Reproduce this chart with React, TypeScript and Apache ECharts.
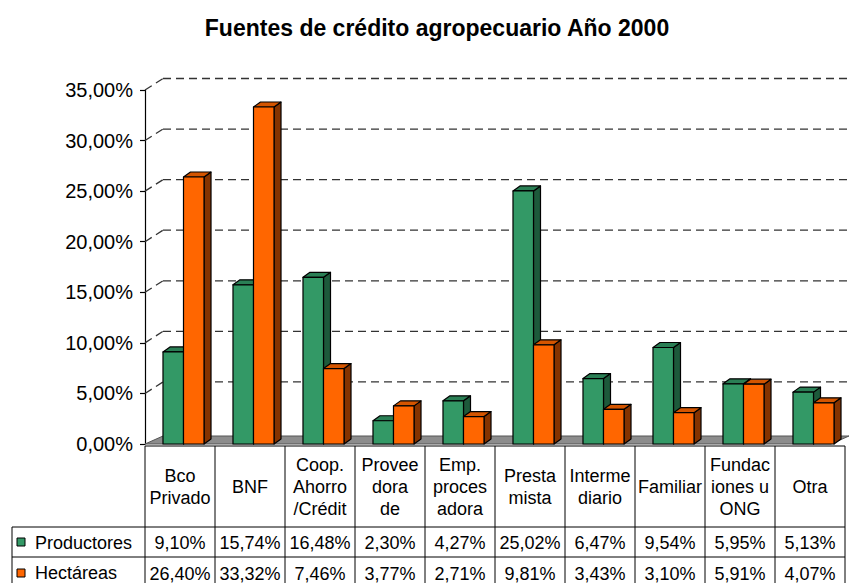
import React, { useEffect, useRef } from "react";
import * as echarts from "echarts";

const title = "Fuentes de crédito agropecuario Año 2000";
const categories = [
  "Bco\nPrivado",
  "BNF",
  "Coop.\nAhorro\n/Crédit",
  "Provee\ndora\nde",
  "Emp.\nproces\nadora",
  "Presta\nmista",
  "Interme\ndiario",
  "Familiar",
  "Fundac\niones u\nONG",
  "Otra",
];
const seriesNames = ["Productores", "Hectáreas"];
const productores = [9.1, 15.74, 16.48, 2.3, 4.27, 25.02, 6.47, 9.54, 5.95, 5.13];
const hectareas = [26.4, 33.32, 7.46, 3.77, 2.71, 9.81, 3.43, 3.1, 5.91, 4.07];
const yTicks = [0, 5, 10, 15, 20, 25, 30, 35];

const FONT = "Liberation Sans";
const fmt = (v: number) => v.toFixed(2).replace(".", ",") + "%";

const GREEN = { front: "#339966", side: "#1d5a3b", top: "#2a7f55" };
const ORANGE = { front: "#ff6600", side: "#853300", top: "#d45500" };

const WALL_DX = 18;
const WALL_DY = -11.5;
const FLOOR_DY = -8;

function barRenderer(offsetFrac: number, widthFrac: number, colors: any) {
  return (params: any, api: any) => {
    const idx = api.value(0);
    const v = api.value(1);
    const base = api.coord([idx, 0]);
    const top = api.coord([idx, v]);
    const bw = api.size([1, 0])[0];
    const x0 = base[0] - bw / 2 + bw * offsetFrac;
    const x1 = x0 + bw * widthFrac;
    const dx = bw * 0.1;
    const dy = -5;
    const y0 = base[1];
    const y1 = top[1];
    const st = { stroke: "#000", lineWidth: 1.2, lineJoin: "round" };
    return {
      type: "group",
      children: [
        {
          type: "polygon",
          shape: { points: [[x1, y0], [x1 + dx, y0 + dy], [x1 + dx, y1 + dy], [x1, y1]] },
          style: { fill: colors.side, ...st },
        },
        {
          type: "polygon",
          shape: { points: [[x0, y1], [x1, y1], [x1 + dx, y1 + dy], [x0 + dx, y1 + dy]] },
          style: { fill: colors.top, ...st },
        },
        {
          type: "rect",
          shape: { x: x0, y: y1, width: x1 - x0, height: y0 - y1 },
          style: { fill: colors.front, ...st },
        },
      ],
    };
  };
}

export default function App() {
  const ref = useRef<HTMLDivElement>(null);
  useEffect(() => {
    if (!ref.current) return;
    const chart = echarts.init(ref.current, undefined, { renderer: "svg" });

    const gridRender = (params: any, api: any) => {
      const v = api.value(1);
      const cs = params.coordSys;
      const y = api.coord([0, v])[1];
      const xL = cs.x;
      const xBackR = cs.x + cs.width + 4;
      if (v === 0) {
        return {
          type: "polygon",
          shape: {
            points: [
              [xL, y],
              [xL + WALL_DX, y + FLOOR_DY],
              [xBackR, y + FLOOR_DY],
              [xBackR - WALL_DX, y],
            ],
          },
          style: { fill: "#8c8c8c", stroke: "#555", lineWidth: 1 },
        };
      }
      const dash = { stroke: "#333", lineWidth: 1.3, lineDash: [8, 5] };
      return {
        type: "group",
        children: [
          {
            type: "line",
            shape: { x1: xL, y1: y, x2: xL + WALL_DX, y2: y + WALL_DY },
            style: dash,
          },
          {
            type: "line",
            shape: { x1: xL + WALL_DX, y1: y + WALL_DY, x2: xBackR + 10, y2: y + WALL_DY },
            style: dash,
          },
        ],
      };
    };

    const tableRender = (params: any, api: any) => {
      const i = params.dataIndex;
      const base = api.coord([i, 0]);
      const bw = api.size([1, 0])[0];
      const xl = base[0] - bw / 2;
      const xr = base[0] + bw / 2;
      const y0 = base[1] + 2;
      const r1 = base[1] + 83;
      const r2 = base[1] + 113;
      const r3 = base[1] + 146;
      const ln = { stroke: "#000", lineWidth: 1 };
      const children: any[] = [
        { type: "line", shape: { x1: xl, y1: y0, x2: xl, y2: r3 + 20 }, style: ln },
        { type: "line", shape: { x1: xl, y1: y0, x2: xr, y2: y0 }, style: ln },
        { type: "line", shape: { x1: xl, y1: r1, x2: xr, y2: r1 }, style: ln },
        { type: "line", shape: { x1: xl, y1: r2, x2: xr, y2: r2 }, style: ln },
        { type: "line", shape: { x1: xl, y1: r3, x2: xr, y2: r3 }, style: ln },
        {
          type: "text",
          style: {
            text: categories[i],
            x: base[0],
            y: (y0 + r1) / 2,
            align: "center",
            verticalAlign: "middle",
            fill: "#000",
            fontFamily: FONT,
            fontSize: 18,
            lineHeight: 22,
          },
        },
        {
          type: "text",
          style: {
            text: fmt(productores[i]),
            x: base[0],
            y: (r1 + r2) / 2 + 1,
            align: "center",
            verticalAlign: "middle",
            fill: "#000",
            fontFamily: FONT,
            fontSize: 18,
          },
        },
        {
          type: "text",
          style: {
            text: fmt(hectareas[i]),
            x: base[0],
            y: (r2 + r3) / 2,
            align: "center",
            verticalAlign: "middle",
            fill: "#000",
            fontFamily: FONT,
            fontSize: 18,
          },
        },
      ];
      if (i === categories.length - 1) {
        children.push({ type: "line", shape: { x1: xr, y1: y0, x2: xr, y2: r3 + 20 }, style: ln });
      }
      return { type: "group", children };
    };

    const option: any = {
      animation: false,
      backgroundColor: "#fff",
      title: {
        text: title,
        left: 432,
        textAlign: "center",
        top: 11,
        textStyle: { fontFamily: FONT, fontSize: 23, fontWeight: "bold", color: "#000" },
      },
      grid: { left: 145, right: 4, top: 90, bottom: 139 },
      xAxis: {
        type: "category",
        data: categories,
        axisLabel: { show: false },
        axisTick: { show: false },
        axisLine: { show: false },
      },
      yAxis: {
        type: "value",
        min: 0,
        max: 35,
        interval: 5,
        axisLine: { show: true, lineStyle: { color: "#000", width: 1.2 } },
        axisTick: { show: true, length: 5, lineStyle: { color: "#000", width: 1.2 } },
        splitLine: { show: false },
        axisLabel: {
          formatter: (v: number) => fmt(v),
          fontFamily: FONT,
          fontSize: 20,
          color: "#000",
          margin: 12,
        },
      },
      graphic: [
        { type: "line", shape: { x1: 12, y1: 527, x2: 12, y2: 600 }, style: { stroke: "#000", lineWidth: 1 } },
        { type: "line", shape: { x1: 12, y1: 527, x2: 145, y2: 527 }, style: { stroke: "#000", lineWidth: 1 } },
        { type: "line", shape: { x1: 12, y1: 557, x2: 145, y2: 557 }, style: { stroke: "#000", lineWidth: 1 } },
        { type: "rect", shape: { x: 17, y: 538, width: 8, height: 8 }, style: { fill: GREEN.front, stroke: "#000", lineWidth: 1 } },
        { type: "text", style: { text: seriesNames[0], x: 35, y: 543, verticalAlign: "middle", fontFamily: FONT, fontSize: 18, fill: "#000" } },
        { type: "rect", shape: { x: 17, y: 569, width: 8, height: 8 }, style: { fill: ORANGE.front, stroke: "#000", lineWidth: 1 } },
        { type: "text", style: { text: seriesNames[1], x: 35, y: 573, verticalAlign: "middle", fontFamily: FONT, fontSize: 18, fill: "#000" } },
      ],
      series: [
        {
          type: "custom",
          name: "grid3d",
          z: 1,
          clip: false,
          silent: true,
          data: yTicks.map((v) => [0, v]),
          encode: { x: 0, y: 1 },
          renderItem: gridRender,
        },
        {
          type: "custom",
          name: seriesNames[0],
          z: 2,
          clip: false,
          data: productores.map((v, i) => [i, v]),
          encode: { x: 0, y: 1 },
          renderItem: barRenderer(0.257, 0.293, GREEN),
        },
        {
          type: "custom",
          name: seriesNames[1],
          z: 3,
          clip: false,
          data: hectareas.map((v, i) => [i, v]),
          encode: { x: 0, y: 1 },
          renderItem: barRenderer(0.55, 0.293, ORANGE),
        },
        {
          type: "custom",
          name: "table",
          z: 4,
          clip: false,
          silent: true,
          data: categories.map((_, i) => [i, 0]),
          encode: { x: 0, y: 1 },
          renderItem: tableRender,
        },
      ],
    };
    chart.setOption(option);
    return () => chart.dispose();
  }, []);
  return (
    <div
      ref={ref}
      style={{ position: "fixed", left: 0, top: 0, width: 849, height: 583, background: "#fff" }}
    />
  );
}
